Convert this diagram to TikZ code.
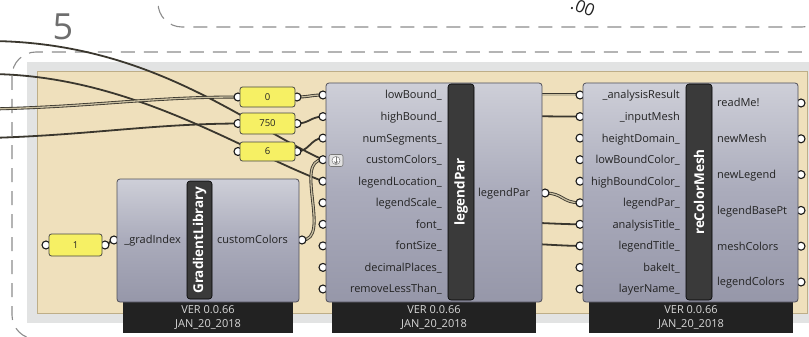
\documentclass[tikz,border=0pt]{standalone}
\usepackage{fontspec}
\setmainfont{Open Sans}
\usetikzlibrary{arrows.meta}
\definecolor{wirec}{RGB}{58,55,46}
\definecolor{wirein}{RGB}{200,190,160}
\definecolor{beige}{RGB}{239,224,188}
\definecolor{beigeb}{RGB}{190,174,136}
\definecolor{grp}{RGB}{226,227,227}
\definecolor{dashc}{RGB}{140,140,140}
\definecolor{bodytop}{RGB}{206,207,216}
\definecolor{bodymid}{RGB}{170,171,187}
\definecolor{bodybot}{RGB}{150,151,169}
\definecolor{bodyb}{RGB}{80,80,90}
\definecolor{stripc}{RGB}{58,58,58}
\definecolor{footc}{RGB}{34,34,34}
\definecolor{foott}{RGB}{215,215,215}
\definecolor{slidery}{RGB}{246,240,100}
\definecolor{labelc}{RGB}{34,34,34}
\definecolor{gripb}{RGB}{25,25,25}
\definecolor{iconf}{RGB}{226,226,226}
\definecolor{iconb}{RGB}{120,120,120}
\definecolor{fivec}{RGB}{110,110,110}
\pgfdeclarelayer{bg}\pgfdeclarelayer{wires}\pgfdeclarelayer{grips}
\pgfsetlayers{bg,wires,grips,main}
\tikzset{
  wire/.style={draw=wirec, line width=1.8pt},
  dwire/.style={draw=wirec, line width=0.85pt, double=wirein, double distance=1.3pt},
  grip/.style={circle, draw=gripb, fill=white, line width=1.1pt, minimum size=8pt, inner sep=0pt},
  compbody/.style={rectangle, rounded corners=3pt, draw=bodyb, line width=0.8pt, top color=bodytop, bottom color=bodybot, middle color=bodymid, inner sep=0pt},
  stripbox/.style={rectangle, rounded corners=3pt, fill=stripc, draw=black, line width=0.6pt, text=white, inner sep=0pt, rotate=90, font=\bfseries\fontsize{13.5}{14}\selectfont},
  footbox/.style={rectangle, fill=footc, draw=none, text=foott, align=center, inner sep=0pt, minimum height=31pt, font=\fontsize{11}{14.5}\selectfont},
  sliderbox/.style={rectangle, rounded corners=2.5pt, fill=slidery, draw=gripb!80, line width=0.8pt, inner sep=0pt, minimum width=55pt, font=\fontsize{9.5}{10}\selectfont, text=labelc},
  inlab/.style={anchor=east, inner sep=0pt, text height=7.8pt, text depth=0pt, text=labelc, font=\fontsize{11}{12}\selectfont},
  outlab/.style={anchor=west, inner sep=0pt, text height=7.8pt, text depth=0pt, text=labelc, font=\fontsize{11}{12}\selectfont},
  dashline/.style={draw=dashc, line width=1.1pt, dash pattern=on 14pt off 9pt},
  iconbox/.style={rectangle, rounded corners=2pt, fill=iconf, draw=iconb, line width=0.6pt, minimum width=14pt, minimum height=12pt, inner sep=0pt}
}
\begin{document}
\begin{tikzpicture}[x=1pt,y=-1pt]
\useasboundingbox (0,0) rectangle (809,337);
% backgrounds
\begin{pgfonlayer}{bg}
\fill[white] (0,0) rectangle (809,337);
\fill[grp] (27,62) rectangle (830,323);
\filldraw[fill=beige, draw=beigeb, line width=0.8pt] (37,71) rectangle (807,313);
\draw[dashline, rounded corners=24pt] (158,-40) -- (158,27) -- (826,27) -- (826,-40);
\draw[dashline, rounded corners=24pt] (12,52) rectangle (826,339);
\node[text=fivec, font=\fontsize{36}{36}\selectfont, inner sep=0pt, anchor=base] (five) at (63,40) {5};
\node[text=labelc, font=\fontsize{17}{17}\selectfont, inner sep=0pt, rotate=-22] (dotzero) at (583,7.5) {.00};
\end{pgfonlayer}

% ---------- grips ----------
\begin{pgfonlayer}{grips}
\node[grip] (s0-in) at (238,97) {};
\node[grip] (s0-out) at (297,97) {};
\node[grip] (s750-in) at (238,123.5) {};
\node[grip] (s750-out) at (297,123.5) {};
\node[grip] (s6-in) at (238,151.5) {};
\node[grip] (s6-out) at (297,151.5) {};
\node[grip] (s1-in) at (46,245) {};
\node[grip] (s1-out) at (105,245) {};
\node[grip] (gl-in) at (114,240) {};
\node[grip] (gl-out) at (302,240) {};
\foreach \i/\y in {1/95,2/116.6,3/138.1,4/159.7,5/181.2,6/202.8,7/224.3,8/245.9,9/267.4,10/289}{
  \node[grip] (lp-i\i) at (323,\y) {};
  \node[grip] (rc-i\i) at (580,\y) {};
}
\node[grip] (lp-out) at (545,193) {};
\foreach \i/\y in {1/103,2/138.8,3/174.6,4/210.4,5/246.2,6/282}{
  \node[grip] (rc-o\i) at (801,\y) {};
}
\end{pgfonlayer}

% ---------- wires ----------
\begin{pgfonlayer}{wires}
\coordinate (wA) at (-10,41);
\coordinate (wB) at (-10,74);
\coordinate (wC) at (-10,109);
\coordinate (wD) at (-10,138);
\coordinate (wE) at (500,95);
\coordinate (wF) at (500,116);
\coordinate (wG) at (500,222);
\coordinate (wH) at (500,243);
\draw[wire] (wA) .. controls (150,42) and (245,124) .. (lp-i4.center);
\draw[wire] (wB) .. controls (130,75) and (240,150) .. (lp-i5.center);
\draw[dwire] (wC) .. controls (90,107) and (150,97) .. (s0-in.center);
\draw[wire] (wD) .. controls (90,135) and (150,124) .. (s750-in.center);
\draw[dwire] (s0-out.center) .. controls +(12,0) and +(-12,0) .. (lp-i1.center);
\draw[wire] (s750-out.center) .. controls +(12,0) and +(-12,0) .. (lp-i2.center);
\draw[wire] (s6-out.center) .. controls +(12,0) and +(-12,0) .. (lp-i3.center);
\draw[dwire] (gl-out.center) .. controls +(30,0) and +(-30,0) .. (lp-i4.center);
\draw[wire] (s1-out.center) .. controls +(6,0) and +(-6,0) .. (gl-in.center);
\draw[dwire] (lp-out.center) .. controls +(18,0) and +(-18,0) .. (rc-i6.center);
\draw[dwire] (wE) .. controls +(30,0) and +(-20,0) .. (rc-i1.center);
\draw[wire] (wF) .. controls +(30,0) and +(-20,0) .. (rc-i2.center);
\draw[wire] (wG) .. controls +(30,0) and +(-20,0) .. (rc-i7.center);
\draw[wire] (wH) .. controls +(30,0) and +(-20,0) .. (rc-i8.center);
\end{pgfonlayer}

% ---------- sliders ----------
\node[sliderbox, minimum height=20pt] (s0) at (267.5,97) {0};
\node[sliderbox, minimum height=21pt] (s750) at (267.5,123.5) {750};
\node[sliderbox, minimum height=19pt] (s6) at (267.5,151.5) {6};
\node[sliderbox, minimum width=53pt, minimum height=22pt] (s1) at (75.5,245) {1};

% ---------- GradientLibrary ----------
\node[footbox, minimum width=170pt] (gl-f) at (208,317.5) {VER 0.0.66\\JAN\_20\_2018};
\node[compbody, minimum width=182pt, minimum height=123pt] (gl) at (208,240.5) {};
\node[stripbox, minimum width=118pt, minimum height=25pt] (gl-s) at (199.5,240) {GradientLibrary};
\node[inlab] (gl-l1) at (181,240) {\_gradIndex};
\node[outlab] (gl-o1) at (217,240) {customColors};

% ---------- legendPar ----------
\node[footbox, minimum width=204pt] (lp-f) at (434,317.5) {VER 0.0.66\\JAN\_20\_2018};
\node[compbody, minimum width=216pt, minimum height=219pt] (lp) at (434,192.5) {};
\node[stripbox, minimum width=216pt, minimum height=26pt] (lp-s) at (461,192) {legendPar};
\foreach \i/\t in {1/lowBound\_,2/highBound\_,3/numSegments\_,4/customColors\_,5/legendLocation\_,6/legendScale\_,7/font\_,8/fontSize\_,9/decimalPlaces\_,10/removeLessThan\_}{
  \node[inlab] (lp-l\i) at (442,{95+(\i-1)*21.56}) {\t};
}
\node[outlab] (lp-o1) at (478,193) {legendPar};
\node[iconbox] (icon) at (336,160.5) {};
\draw[fill=white, draw=iconb, line width=0.5pt] (icon.center) circle (4pt);
\draw[iconb, line width=1pt, -{Stealth[length=2.8pt,width=4.5pt]}] ([yshift=3.3pt]icon.center) -- ([yshift=-3.6pt]icon.center);

% ---------- reColorMesh ----------
\node[footbox, minimum width=204pt] (rc-f) at (691,317.5) {VER 0.0.66\\JAN\_20\_2018};
\node[compbody, minimum width=215pt, minimum height=219pt] (rc) at (690.5,192.5) {};
\node[stripbox, minimum width=216pt, minimum height=26pt] (rc-s) at (699,192) {reColorMesh};
\foreach \i/\t in {1/\_analysisResult,2/\_inputMesh,3/heightDomain\_,4/lowBoundColor\_,5/highBoundColor\_,6/legendPar\_,7/analysisTitle\_,8/legendTitle\_,9/bakeIt\_,10/layerName\_}{
  \node[inlab] (rc-l\i) at (680,{95+(\i-1)*21.56}) {\t};
}
\foreach \i/\t in {1/readMe!,2/newMesh,3/newLegend,4/legendBasePt,5/meshColors,6/legendColors}{
  \node[outlab] (rc-o\i l) at (717,{103+(\i-1)*35.8}) {\t};
}
\end{tikzpicture}
\end{document}
